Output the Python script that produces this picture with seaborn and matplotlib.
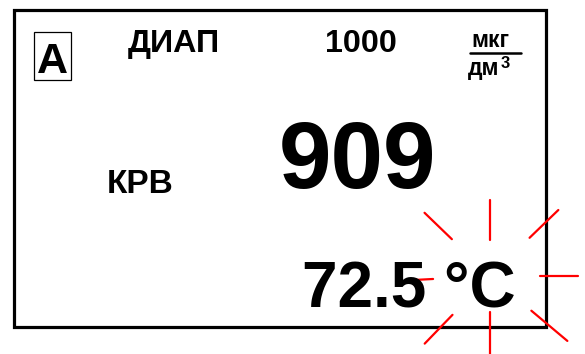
import numpy as np
import pandas as pd
import seaborn as sns
import matplotlib.pyplot as plt
from matplotlib.patches import Rectangle

# display readings
range_label = 'ДИАП'
range_value = '1000'
unit_top = 'мкг'
unit_bottom = 'дм'
mode_label = 'КРВ'
reading = '909'
temperature = '72.5 °C'

# blinking rays around the degree sign: angle (deg), inner and outer radius (px)
ray_angle = [90, 44, 0, -40, -90, -134, 183, 136]
ray_inner = [36, 55, 50, 54, 36, 54, 57, 53]
ray_outer = [76, 95, 88, 101, 78, 94, 85, 91]
ray_center = (490, 276)

sns.set_theme(style='white')
plt.rcParams['font.family'] = ['Liberation Sans', 'DejaVu Sans']
plt.rcParams['text.color'] = 'black'

fig = plt.figure(figsize=(5.85, 3.54), dpi=100)
ax = fig.add_axes([0, 0, 1, 1])

# outer frame of the display
ax.add_patch(Rectangle((14, 10), 532, 317, fill=False, lw=2.3, ec='black'))
# boxed "A"
ax.add_patch(Rectangle((34, 32), 37, 48, fill=False, lw=0.9, ec='black'))
ax.text(37, 73, 'A', fontsize=31, fontweight='bold', va='baseline')

ax.text(128, 52, range_label, fontsize=23.2, fontweight='bold', va='baseline')
ax.text(325, 52, range_value, fontsize=23.2, fontweight='bold', va='baseline')

# unit fraction
ax.text(471, 47, unit_top, fontsize=16.5, fontweight='bold', va='baseline')
ax.plot([470, 521], [53, 53], color='black', lw=1.8)
ax.text(468, 75, unit_bottom, fontsize=16.5, fontweight='bold', va='baseline')
ax.text(501, 68, '3', fontsize=12, fontweight='bold', va='baseline')

ax.text(107, 193, mode_label, fontsize=24, fontweight='bold', va='baseline')
ax.text(279, 188, reading, fontsize=68, fontweight='bold', va='baseline')
ax.text(302, 307, temperature, fontsize=46, fontweight='bold', va='baseline')

# rays
rows = []
for i, (a, r0, r1) in enumerate(zip(ray_angle, ray_inner, ray_outer)):
    t = np.deg2rad(a)
    for r in (r0, r1):
        rows.append({'ray': i,
                     'x': ray_center[0] + r * np.cos(t),
                     'y': ray_center[1] - r * np.sin(t)})
rays = pd.DataFrame(rows)
sns.lineplot(data=rays, x='x', y='y', units='ray', estimator=None,
             sort=False, color='red', lw=1.6, ax=ax, legend=False)
ax.set_xlim(0, 585)
ax.set_ylim(354, 0)
ax.axis('off')

fig.savefig('out.png', dpi=100)
